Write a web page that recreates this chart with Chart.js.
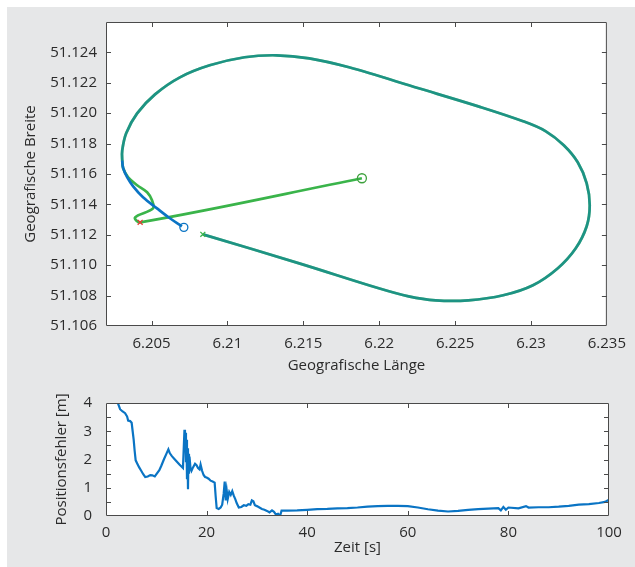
<!DOCTYPE html>
<html>
<head>
<meta charset="utf-8">
<script src="https://cdn.jsdelivr.net/npm/chart.js@4.4.1/dist/chart.umd.min.js"></script>
<style>
  html, body { margin: 0; padding: 0; background: #fff; }
  #panel { position: absolute; left: 7px; top: 7px; width: 628px; height: 560px; background: #e6e7e8; }
  canvas { position: absolute; left: 0; }
  #pos { top: 0; }
  #err { top: 380px; }
</style>
</head>
<body>
<div id="panel"></div>
<canvas id="pos" width="635" height="380"></canvas>
<canvas id="err" width="635" height="187"></canvas>
<script>
// gemeinsamer Rundkurs (beide Spuren liegen hier übereinander)
const ovalLon = [6.20838, 6.21473, 6.21997, 6.22194, 6.22371, 6.22587, 6.22817, 6.23013, 6.23177, 6.23295,
  6.23367, 6.23387, 6.23367, 6.23308, 6.23216, 6.23098, 6.22948, 6.22653, 6.22260, 6.21801,
  6.21539, 6.21323, 6.21113, 6.20883, 6.20687, 6.20523, 6.20405, 6.20333, 6.20307, 6.20307];
const ovalLat = [51.11203, 51.11012, 51.10848, 51.10795, 51.10769, 51.10769, 51.10802, 51.10868, 51.10980, 51.11111,
  51.11256, 51.11394, 51.11539, 51.11677, 51.11789, 51.11881, 51.11947, 51.12045, 51.12164, 51.12302,
  51.12361, 51.12381, 51.12368, 51.12315, 51.12236, 51.12124, 51.11999, 51.11868, 51.11756, 51.11690];

// Enden der beiden Spuren
const blueTailLon = [6.20313, 6.20340, 6.20379, 6.20444, 6.20536, 6.20621, 6.20700];
const blueTailLat = [51.11638, 51.11578, 51.11519, 51.11447, 51.11374, 51.11309, 51.11256];
const greenTailLon = [6.20313, 6.20346, 6.20405, 6.20471, 6.20503, 6.20510, 6.20392, 6.20425, 6.21886];
const greenTailLat = [51.11638, 51.11578, 51.11526, 51.11480, 51.11427, 51.11374, 51.11315, 51.11282, 51.11572];

// Start/Ende-Marker: Start grün, Start rot, Ende blau, Ende grün
const markLon = [6.20838, 6.20425, 6.20713, 6.21886];
const markLat = [51.11203, 51.11282, 51.11249, 51.11572];

const lonTicks = [6.205, 6.21, 6.215, 6.22, 6.225, 6.23, 6.235];
const lonTickLabels = ['6.205', '6.21', '6.215', '6.22', '6.225', '6.23', '6.235'];
const latTicks = [51.106, 51.108, 51.110, 51.112, 51.114, 51.116, 51.118, 51.120, 51.122, 51.124];
const latTickLabels = ['51.106', '51.108', '51.110', '51.112', '51.114', '51.116', '51.118', '51.120', '51.122', '51.124'];

// Positionsfehler über der Zeit
const errTime = [2.4, 2.8, 3.3, 3.8, 4.2, 4.4, 4.8, 5.1, 5.3, 5.5, 5.7, 5.9, 6.2, 6.6, 7.0, 7.4, 7.8, 8.3, 8.8, 9.2,
  9.7, 10.1, 10.6, 11.0, 11.5, 12.0, 12.4, 12.7, 13.1, 13.6, 14.1, 14.6, 15.0, 15.3, 15.5, 15.6, 15.7, 15.8, 15.9, 16.0,
  16.1, 16.2, 16.3, 16.4, 16.5, 16.6, 16.8, 17.0, 17.3, 17.7, 18.0, 18.3, 18.6, 18.8, 19.1, 19.4, 19.7, 20.0, 20.4, 20.8,
  21.2, 21.6, 21.8, 22.0, 22.4, 22.8, 23.1, 23.4, 23.6, 23.8, 24.0, 24.2, 24.5, 24.8, 25.1, 25.4, 25.7, 26.0, 26.4, 26.9,
  27.4, 27.9, 28.3, 28.7, 29.0, 29.3, 29.6, 30.0, 30.5, 31.0, 31.5, 32.0, 32.5, 33.0, 33.4, 33.8, 34.2, 34.6, 34.9, 36,
  38, 40, 42, 44, 46, 48, 50, 52, 54, 56, 58, 60, 62, 64, 66, 68, 70, 72, 74, 76,
  78, 78.5, 79, 79.5, 80, 82, 83.5, 84, 86, 88, 90, 92, 94, 96, 98, 99.2, 100];
const errValue = [3.98, 3.78, 3.70, 3.64, 3.52, 3.38, 3.36, 3.30, 3.00, 2.70, 2.30, 1.97, 1.86, 1.72, 1.60, 1.48, 1.38, 1.40, 1.45, 1.44,
  1.40, 1.50, 1.62, 1.78, 2.00, 2.20, 2.36, 2.22, 2.12, 2.02, 1.92, 1.82, 1.75, 1.70, 2.60, 3.05, 2.40, 2.95, 1.90, 2.70,
  1.30, 2.40, 0.95, 2.20, 1.50, 2.10, 1.70, 1.60, 1.72, 1.85, 1.80, 1.70, 1.65, 1.82, 1.60, 1.45, 1.38, 1.36, 1.32, 1.25,
  1.22, 1.18, 0.70, 0.28, 0.25, 0.30, 0.40, 0.80, 1.22, 0.55, 0.90, 0.60, 0.85, 0.75, 0.88, 0.72, 0.60, 0.45, 0.30, 0.32,
  0.38, 0.36, 0.42, 0.40, 0.55, 0.52, 0.38, 0.35, 0.30, 0.25, 0.22, 0.18, 0.13, 0.20, 0.15, 0.05, 0.08, 0.00, 0.19, 0.19,
  0.20, 0.22, 0.24, 0.25, 0.27, 0.28, 0.30, 0.33, 0.35, 0.36, 0.36, 0.35, 0.30, 0.24, 0.19, 0.16, 0.18, 0.22, 0.24, 0.26,
  0.28, 0.20, 0.32, 0.22, 0.30, 0.27, 0.35, 0.30, 0.31, 0.31, 0.33, 0.36, 0.40, 0.42, 0.46, 0.50, 0.58];

const timeTicks = [0, 20, 40, 60, 80, 100];
const timeTickLabels = ['0', '20', '40', '60', '80', '100'];
const errTicks = [0, 0.5, 1, 1.5, 2, 2.5, 3, 3.5, 4];
const errTickLabels = ['0', '', '1', '', '2', '', '3', '', '4'];

const TXT = '#2b2b2b';
const FONT = { family: '"Open Sans", sans-serif', size: 15 };
const BLUE = 'rgb(10,116,196)';
const BLUE_SOFT = 'rgba(0,114,189,0.5)';
const GREEN = 'rgb(58,180,74)';

const pts = (xs, ys) => xs.map((x, i) => ({ x, y: ys[i] }));

// weiße Zeichenfläche, Rahmen + nach innen zeigende Ticks auf allen vier Seiten
const boxTicks = {
  id: 'boxTicks',
  beforeDatasetsDraw(chart) {
    const { ctx, chartArea: a } = chart;
    ctx.save();
    ctx.fillStyle = '#fff';
    ctx.fillRect(a.left, a.top, a.right - a.left, a.bottom - a.top);
    ctx.restore();
  },
  afterDatasetsDraw(chart) {
    const { ctx, chartArea: a, scales } = chart;
    const L = 5;
    ctx.save();
    ctx.strokeStyle = '#4a4a4a';
    ctx.lineWidth = 1;
    ctx.beginPath();
    ctx.rect(a.left + 0.5, a.top + 0.5, a.right - a.left - 1, a.bottom - a.top - 1);
    scales.x.ticks.forEach((t) => {
      const px = Math.round(scales.x.getPixelForValue(t.value)) + 0.5;
      if (px < a.left + 2 || px > a.right - 2) return;
      ctx.moveTo(px, a.bottom); ctx.lineTo(px, a.bottom - L);
      ctx.moveTo(px, a.top); ctx.lineTo(px, a.top + L);
    });
    scales.y.ticks.forEach((t) => {
      const py = Math.round(scales.y.getPixelForValue(t.value)) + 0.5;
      if (py < a.top + 2 || py > a.bottom - 2) return;
      ctx.moveTo(a.left, py); ctx.lineTo(a.left + L, py);
      ctx.moveTo(a.right, py); ctx.lineTo(a.right - L, py);
    });
    ctx.stroke();
    ctx.restore();
  },
};

const axis = (min, max, ticks, labels, size, title, pad, tpad) => ({
  type: 'linear', min, max,
  afterBuildTicks: (s) => { s.ticks = ticks.map((v) => ({ value: v })); },
  afterFit: (s) => { if (s.isHorizontal()) s.height = size; else s.width = size; },
  grid: { display: false, drawTicks: false },
  border: { display: false },
  ticks: { autoSkip: false, maxRotation: 0, padding: pad, color: TXT, font: FONT, callback: (v, i) => labels[i] },
  title: { display: true, text: title, color: TXT, font: FONT, padding: tpad },
});

const base = {
  responsive: false, animation: false, devicePixelRatio: 1, events: [],
  plugins: { legend: { display: false }, tooltip: { enabled: false } },
};

new Chart(document.getElementById('pos'), {
  type: 'scatter',
  data: {
    datasets: [
      {
        data: pts(markLon, markLat), showLine: false, order: 0,
        pointStyle: ['crossRot', 'crossRot', 'circle', 'circle'],
        pointRadius: [3.5, 3.5, 4, 4.5],
        borderWidth: 1.3,
        borderColor: [GREEN, 'rgb(230,60,50)', BLUE, 'rgb(60,160,60)'],
        backgroundColor: 'rgba(0,0,0,0)',
      },
      {
        data: pts(ovalLon.concat(blueTailLon), ovalLat.concat(blueTailLat)),
        showLine: true, pointRadius: 0, tension: 0.35, borderWidth: 2.7, order: 1,
        borderColor: BLUE_SOFT,
        segment: { borderColor: (c) => (c.p0DataIndex >= ovalLon.length - 1 ? BLUE : BLUE_SOFT) },
      },
      {
        data: pts(ovalLon.concat(greenTailLon), ovalLat.concat(greenTailLat)),
        showLine: true, pointRadius: 0, tension: 0.35, borderWidth: 2.7, order: 2,
        borderColor: GREEN,
      },
    ],
  },
  options: {
    ...base,
    layout: { padding: { left: 0, top: 22, right: 25, bottom: 0 } },
    scales: {
      x: axis(6.202, 6.235, lonTicks, lonTickLabels, 54, 'Geografische Länge', 9, { top: 0, bottom: 5 }),
      y: axis(51.106, 51.126, latTicks, latTickLabels, 106, 'Geografische Breite', 9, { top: 22, bottom: 0 }),
    },
  },
  plugins: [boxTicks],
});

new Chart(document.getElementById('err'), {
  type: 'scatter',
  data: {
    datasets: [{
      data: pts(errTime, errValue), showLine: true, pointRadius: 0, tension: 0,
      borderWidth: 2.2, borderColor: BLUE,
    }],
  },
  options: {
    ...base,
    layout: { padding: { left: 0, top: 16, right: 26, bottom: 0 } },
    scales: {
      x: axis(0, 100, timeTicks, timeTickLabels, 51, 'Zeit [s]', 8, { top: 0, bottom: 10 }),
      y: axis(0, 4, errTicks, errTickLabels, 106, 'Positionsfehler [m]', 14, { top: 53, bottom: 0 }),
    },
  },
  plugins: [boxTicks],
});
</script>
</body>
</html>
